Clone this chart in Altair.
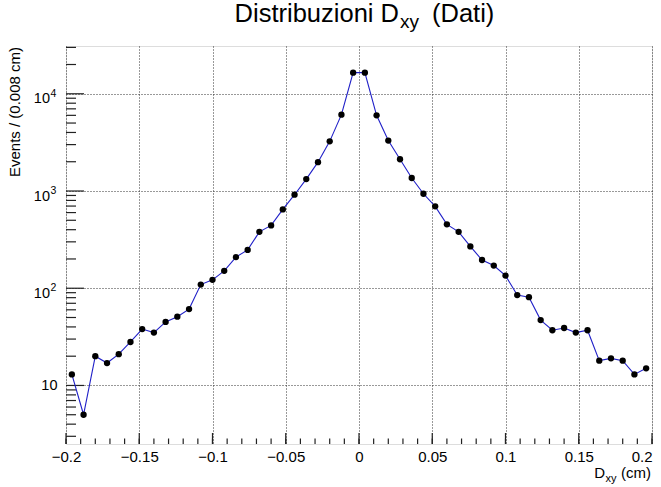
import altair as alt
import pandas as pd

# ---- data ----
bin_centers = [-0.196, -0.188, -0.180, -0.172, -0.164, -0.156, -0.148, -0.140, -0.132, -0.124,
               -0.116, -0.108, -0.100, -0.092, -0.084, -0.076, -0.068, -0.060, -0.052, -0.044,
               -0.036, -0.028, -0.020, -0.012, -0.004, 0.004, 0.012, 0.020, 0.028, 0.036,
               0.044, 0.052, 0.060, 0.068, 0.076, 0.084, 0.092, 0.100, 0.108, 0.116,
               0.124, 0.132, 0.140, 0.148, 0.156, 0.164, 0.172, 0.180, 0.188, 0.196]
events = [13, 5, 20, 17, 21, 28, 38, 35, 45, 51,
          61, 109, 122, 151, 209, 248, 380, 443, 647, 916,
          1326, 1980, 3240, 6100, 16500, 16500, 6000, 3300, 2120, 1360,
          937, 695, 454, 380, 269, 195, 171, 135, 85, 81,
          47, 37, 39, 35, 37, 18, 19, 18, 13, 15]

x_major = [-0.2, -0.15, -0.1, -0.05, 0.0, 0.05, 0.1, 0.15, 0.2]
x_minor = [round(-0.2 + 0.01 * i, 2) for i in range(41)]
y_major = [10, 100, 1000, 10000]
y_exp = ["1", "2", "3", "4"]
y_minor = [m * d for d in [1, 10, 100, 1000, 10000] for m in range(2, 10) if 2.5 <= m * d <= 31000]

FONT = "Liberation Sans"
W, H = 586, 398
XD = [-0.2, 0.2]
YD = [2.5, 31000]

df = pd.DataFrame({"x": bin_centers, "n": events})
xs = alt.Scale(domain=XD, nice=False, zero=False)
ys = alt.Scale(type="log", domain=YD, nice=False)

grid = alt.Chart(pd.DataFrame({"x": x_major})).mark_rule(opacity=0).encode(
    x=alt.X("x:Q", scale=xs, title=None,
            axis=alt.Axis(values=x_major, format="~g", grid=True, gridDash=[1, 2],
                          gridColor="#333", gridWidth=1, ticks=False, domain=False,
                          labelFont=FONT, labelFontSize=15, labelColor="black",
                          labelPadding=5, labelFlush=False,
                          labelAlign={"condition": {"test": "datum.value > 0.199", "value": "right"},
                                      "value": "center"})),
    y=alt.value(0),
)
ygrid = alt.Chart(pd.DataFrame({"y": y_major})).mark_rule(opacity=0).encode(
    y=alt.Y("y:Q", scale=ys, title=None,
            axis=alt.Axis(values=y_major, grid=True, gridDash=[1, 2], gridColor="#333",
                          gridWidth=1, ticks=False, domain=False, labels=False)),
    x=alt.value(0),
)

xmaj = alt.Chart(pd.DataFrame({"x": x_major})).mark_rule(color="#222", strokeWidth=1.2).encode(
    x=alt.X("x:Q", scale=xs), y=alt.value(H), y2=alt.value(H - 11))
xmin = alt.Chart(pd.DataFrame({"x": x_minor})).mark_rule(color="#222", strokeWidth=1.2).encode(
    x=alt.X("x:Q", scale=xs), y=alt.value(H), y2=alt.value(H - 5.5))
ymaj = alt.Chart(pd.DataFrame({"y": y_major})).mark_rule(color="#222", strokeWidth=1.2).encode(
    y=alt.Y("y:Q", scale=ys), x=alt.value(0), x2=alt.value(18))
ymin = alt.Chart(pd.DataFrame({"y": y_minor})).mark_rule(color="#222", strokeWidth=1.2).encode(
    y=alt.Y("y:Q", scale=ys), x=alt.value(0), x2=alt.value(10))

ylab_df = pd.DataFrame({"y": y_major, "e": y_exp})
ylab10 = alt.Chart(ylab_df[ylab_df.e == "1"]).mark_text(
    font=FONT, fontSize=14.5, align="right", baseline="middle", dy=0.5).encode(
    y=alt.Y("y:Q", scale=ys), x=alt.value(-8.5), text=alt.value("10"))
ylabb = alt.Chart(ylab_df[ylab_df.e != "1"]).mark_text(
    font=FONT, fontSize=14.5, align="right", baseline="alphabetic", dy=9.5).encode(
    y=alt.Y("y:Q", scale=ys), x=alt.value(-16), text=alt.value("10"))
ylabe = alt.Chart(ylab_df[ylab_df.e != "1"]).mark_text(
    font=FONT, fontSize=10.5, align="left", baseline="alphabetic", dy=3).encode(
    y=alt.Y("y:Q", scale=ys), x=alt.value(-15.5), text="e:N")

line = alt.Chart(df).mark_line(color="#2020c8", strokeWidth=1.1).encode(
    x=alt.X("x:Q", scale=xs), y=alt.Y("n:Q", scale=ys))
pts = alt.Chart(df).mark_point(shape="circle", filled=True, color="black", size=40, opacity=1).encode(
    x=alt.X("x:Q", scale=xs), y=alt.Y("n:Q", scale=ys))

def txt(s, x, y, size, align="left", angle=0):
    return alt.Chart(pd.DataFrame({"t": [s]})).mark_text(
        font=FONT, fontSize=size, align=align, baseline="alphabetic", angle=angle,
        color="black").encode(x=alt.value(x), y=alt.value(y), text="t:N")

title = (txt("Distribuzioni D", 333, -24, 25.5, "right")
         + txt("xy", 334, -18.5, 19)
         + txt("(Dati)", 366, -24, 25.5))
xtitle = (txt("D", 539, H + 34, 15, "right") + txt("xy", 539.5, H + 37.5, 11)
          + txt("(cm)", 585, H + 34, 15, "right"))
ytitle = txt("Events / (0.008 cm)", -46.5, 1, 15, "right", 270)

chart = alt.layer(grid, ygrid, xmin, xmaj, ymin, ymaj, line, pts,
                  ylab10, ylabb, ylabe, title, xtitle, ytitle).properties(
    width=W, height=H,
    autosize=alt.AutoSizeParams(type="none"),
    padding={"left": 66, "top": 46, "right": 9, "bottom": 43},
).configure_view(stroke="#333", strokeWidth=1.6).configure(background="white")

chart.save("out.html", embed_options={"renderer": "svg", "actions": False})
